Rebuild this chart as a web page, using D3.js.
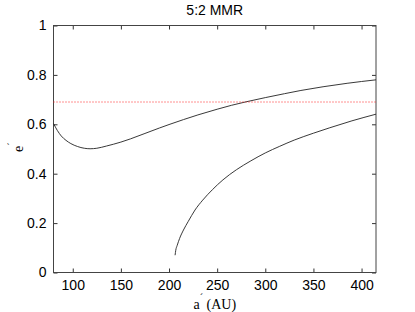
<!DOCTYPE html>
<html>
<head>
<meta charset="utf-8">
<script src="https://cdn.jsdelivr.net/npm/d3@7"></script>
<style>
  body { margin: 0; background: #fff; }
  .tick text { font-family: "Liberation Sans", Arial, sans-serif; font-size: 14px; fill: #000; }
</style>
</head>
<body>
<div id="chart"></div>
<script>
const width = 415, height = 312;
const margin = {top: 25.5, right: 39, bottom: 39.5, left: 53.5};

// upper branch (a, e)
const upperA = [80, 84, 88, 93, 98, 105, 112, 118, 125, 135, 150, 160, 175, 190, 200, 215, 230, 250, 265, 280, 300, 320, 337, 360, 385, 415];
const upperE = [0.603, 0.575, 0.553, 0.535, 0.522, 0.510, 0.503, 0.501, 0.503, 0.512, 0.528, 0.541, 0.563, 0.585, 0.599, 0.619, 0.638, 0.661, 0.677, 0.691, 0.708, 0.724, 0.737, 0.752, 0.766, 0.780];

// lower branch (a, e)
const lowerA = [206.3, 207, 208.5, 211, 215, 220, 227, 235, 245, 256, 270, 285, 300, 315, 330, 350, 367, 390, 415];
const lowerE = [0.07, 0.09, 0.11, 0.138, 0.172, 0.207, 0.253, 0.293, 0.335, 0.375, 0.416, 0.452, 0.484, 0.511, 0.536, 0.564, 0.586, 0.614, 0.641];

// horizontal reference level
const refE = 0.691;

const xTicks = [100, 150, 200, 250, 300, 350, 400];
const yTicks = [0, 0.2, 0.4, 0.6, 0.8, 1];

const w = width - margin.left - margin.right,
      h = height - margin.top - margin.bottom;

const x = d3.scaleLinear().domain([80, 415]).range([0, w]);
const y = d3.scaleLinear().domain([0, 1]).range([h, 0]);

const svg = d3.select("#chart").append("svg")
    .attr("width", width)
    .attr("height", height);

const g = svg.append("g")
    .attr("transform", "translate(" + margin.left + "," + margin.top + ")");

// axes (ticks inward, MATLAB style)
const xAxis = d3.axisBottom(x).tickValues(xTicks).tickSizeInner(-4).tickSizeOuter(0).tickPadding(8);
const yAxis = d3.axisLeft(y).tickValues(yTicks).tickSizeInner(-4).tickSizeOuter(0).tickPadding(7)
    .tickFormat(d => d === 0 || d === 1 ? d3.format("d")(d) : d3.format(".1f")(d));

g.append("g").attr("transform", "translate(0," + h + ")").call(xAxis);
g.append("g").call(yAxis);
g.append("g").call(d3.axisTop(x).tickValues(xTicks).tickSizeInner(-4).tickSizeOuter(0).tickFormat(""));
g.append("g").attr("transform", "translate(" + w + ",0)")
    .call(d3.axisRight(y).tickValues(yTicks).tickSizeInner(-4).tickSizeOuter(0).tickFormat(""));

g.selectAll(".domain").remove();
g.selectAll(".tick line").attr("stroke", "#333");

// box
g.append("rect")
    .attr("width", w).attr("height", h)
    .attr("fill", "none").attr("stroke", "#444").attr("stroke-width", 1);

const line = d3.line()
    .x(d => x(d[0]))
    .y(d => y(d[1]))
    .curve(d3.curveMonotoneX);

g.append("path")
    .datum(upperA.map((a, i) => [a, upperE[i]]))
    .attr("d", line)
    .attr("fill", "none").attr("stroke", "#222").attr("stroke-width", 0.9);

g.append("path")
    .datum(lowerA.map((a, i) => [a, lowerE[i]]))
    .attr("d", line)
    .attr("fill", "none").attr("stroke", "#222").attr("stroke-width", 0.9);

// dotted red level line
g.append("line")
    .attr("x1", x(80)).attr("x2", x(415))
    .attr("y1", Math.round(y(refE)) + 0.5).attr("y2", Math.round(y(refE)) + 0.5)
    .attr("stroke", "#ff2020").attr("stroke-width", 1)
    .attr("stroke-dasharray", "1,2");

// title
svg.append("text")
    .attr("x", margin.left + w / 2).attr("y", 15)
    .attr("text-anchor", "middle")
    .style("font-family", "'Liberation Sans', Arial, sans-serif")
    .style("font-size", "14px")
    .text("5:2 MMR");

// x label
const xl = svg.append("text")
    .attr("x", margin.left + w / 2).attr("y", 309)
    .attr("text-anchor", "middle")
    .style("font-family", "'Liberation Serif', 'Times New Roman', serif")
    .style("font-size", "14px");
xl.append("tspan").text("a");
xl.append("tspan").attr("dy", -8).style("font-size", "10px").text("´");
xl.append("tspan").attr("dy", 8).text(" (AU)");

// y label
const yl = svg.append("text")
    .attr("transform", "translate(23,152) rotate(-90)")
    .style("font-family", "'Liberation Serif', 'Times New Roman', serif")
    .style("font-size", "14px");
yl.append("tspan").text("e");
yl.append("tspan").attr("dy", -8).style("font-size", "10px").text("´");
</script>
</body>
</html>
